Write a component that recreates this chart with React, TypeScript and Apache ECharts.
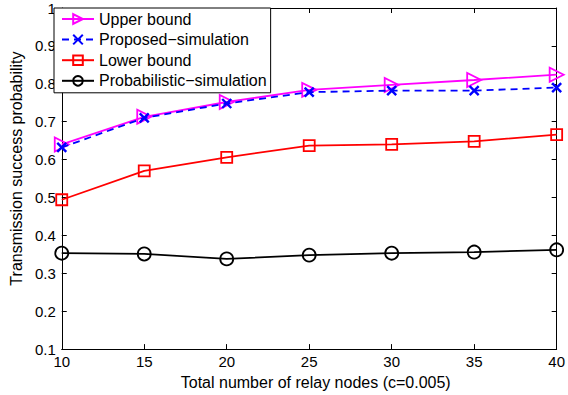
import React, { useEffect, useRef } from "react";
import * as echarts from "echarts";

const relayNodes = [10, 15, 20, 25, 30, 35, 40];
const upperBound = [0.64, 0.713, 0.752, 0.784, 0.797, 0.81, 0.824];
const proposedSim = [0.632, 0.71, 0.748, 0.778, 0.782, 0.782, 0.79];
const lowerBound = [0.494, 0.57, 0.606, 0.637, 0.64, 0.648, 0.666];
const probabilisticSim = [0.353, 0.351, 0.338, 0.348, 0.353, 0.356, 0.362];

const seriesNames = ["Upper bound", "Proposed\u2212simulation", "Lower bound", "Probabilistic\u2212simulation"];
const xAxisName = "Total number of relay nodes (c=0.005)";
const yAxisName = "Transmission success probability";

const FONT = "Liberation Sans, Arial, Helvetica, sans-serif";

function pairs(ys: number[]) {
  return relayNodes.map((x, i) => [x, ys[i]]);
}

export default function App() {
  const ref = useRef<HTMLDivElement>(null);
  useEffect(() => {
    if (!ref.current) return;
    const chart = echarts.init(ref.current, undefined, { renderer: "svg" });
    const axisCommon = {
      axisLine: { show: true, onZero: false, lineStyle: { color: "#000", width: 1 } },
      axisTick: { show: true, inside: true, length: 5, lineStyle: { color: "#000" } },
      splitLine: { show: false },
    };
    const clear = "rgba(255,255,255,0)";
    chart.setOption({
      animation: false,
      backgroundColor: "#fff",
      textStyle: { fontFamily: FONT },
      grid: { left: 54, right: 8, top: 8, bottom: 43, containLabel: false },
      legend: {
        orient: "vertical",
        left: 54,
        top: 8,
        z: 20,
        zlevel: 0,
        backgroundColor: "#fff",
        borderColor: "#000",
        borderWidth: 1,
        borderRadius: 0,
        padding: [3, 4, 4, 7],
        itemWidth: 32,
        itemHeight: 12,
        itemGap: 4.6,
        textStyle: { fontSize: 16, color: "#000", fontFamily: FONT },
        data: seriesNames,
      },
      xAxis: [
        {
          type: "value",
          min: 10,
          max: 40,
          interval: 5,
          name: xAxisName,
          nameLocation: "middle",
          nameGap: 21,
          nameTextStyle: { fontSize: 16, color: "#000", fontFamily: FONT, padding: [0, 0, 0, 13] },
          axisLabel: { fontSize: 15, color: "#000", margin: 5, fontFamily: FONT },
          ...axisCommon,
        },
        {
          type: "value",
          position: "top",
          min: 10,
          max: 40,
          interval: 5,
          axisLabel: { show: false },
          ...axisCommon,
        },
      ],
      yAxis: [
        {
          type: "value",
          min: 0.1,
          max: 1,
          interval: 0.1,
          name: yAxisName,
          nameLocation: "middle",
          nameGap: 31,
          nameTextStyle: { fontSize: 16, color: "#000", fontFamily: FONT, padding: [0, 0, 0, 20] },
          axisLabel: {
            fontSize: 15,
            color: "#000",
            margin: 6,
            fontFamily: FONT,
            formatter: (v: number) => {
              const r = Math.round(v * 10) / 10;
              return r === 1 ? "1" : r.toFixed(1);
            },
          },
          ...axisCommon,
        },
        {
          type: "value",
          position: "right",
          min: 0.1,
          max: 1,
          interval: 0.1,
          axisLabel: { show: false },
          ...axisCommon,
        },
      ],
      series: [
        {
          name: seriesNames[0],
          type: "line",
          data: pairs(upperBound),
          symbol: "triangle",
          symbolRotate: -90,
          symbolSize: 14,
          showAllSymbol: true,
          lineStyle: { color: "#ff00ff", width: 1.8 },
          itemStyle: { color: clear, borderColor: "#ff00ff", borderWidth: 1.8 },
          z: 3,
        },
        {
          name: seriesNames[1],
          type: "line",
          data: pairs(proposedSim),
          symbol: "path://M0,0L10,10M10,0L0,10",
          symbolSize: 9,
          lineStyle: { color: "#0000ff", width: 1.8, type: [7, 5] },
          itemStyle: { color: clear, borderColor: "#0000ff", borderWidth: 2.4 },
          z: 4,
        },
        {
          name: seriesNames[2],
          type: "line",
          data: pairs(lowerBound),
          symbol: "rect",
          symbolSize: 11,
          lineStyle: { color: "#ff0000", width: 1.8 },
          itemStyle: { color: clear, borderColor: "#ff0000", borderWidth: 1.8 },
          z: 2,
        },
        {
          name: seriesNames[3],
          type: "line",
          data: pairs(probabilisticSim),
          symbol: "circle",
          symbolSize: 13,
          lineStyle: { color: "#000000", width: 1.8 },
          itemStyle: { color: clear, borderColor: "#000000", borderWidth: 1.8 },
          z: 2,
        },
      ],
    });
    return () => chart.dispose();
  }, []);
  return <div ref={ref} style={{ width: 568, height: 395, position: "absolute", left: 0, top: 0 }} />;
}
